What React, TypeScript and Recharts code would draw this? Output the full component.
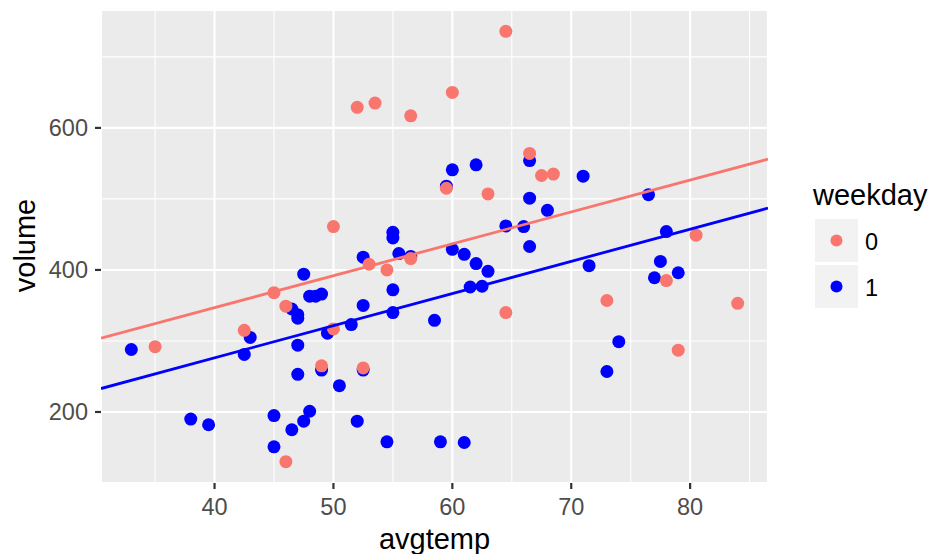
import { ScatterChart, Scatter, XAxis, YAxis, CartesianGrid, ReferenceLine, Label } from 'recharts'

// weekday = 0
const coralTemp = [35, 42.5, 45, 46, 46, 49, 50, 50, 52.5, 52, 53.5, 56.5, 53, 54.5, 56.5, 59.5, 60, 64.5, 63, 66.5, 67.5, 68.5, 64.5, 73, 78, 79, 80.5, 84]
const coralVolume = [292, 315, 368, 130, 349, 265, 317, 461, 262, 629, 635, 617, 408, 400, 416, 515, 650, 736, 507, 564, 533, 535, 340, 357, 385, 287, 449, 353]

// weekday = 1
const blueTemp = [33, 38, 39.5, 42.5, 43, 45, 45, 46.5, 47.5, 48, 47, 47, 47, 46.5, 47, 47.5, 48, 48.5, 49, 49, 49.5, 50.5, 51.5, 52, 52.5, 52.5, 52.5, 54.5, 55, 55, 55, 55, 55.5, 56.5, 58.5, 59, 61, 60, 61, 62, 63, 61.5, 62.5, 66.5, 71.5, 74, 73, 77.5, 77, 79, 60, 59.5, 62, 66.5, 66.5, 64.5, 66, 68, 71, 76.5, 78]
const blueVolume = [288, 190, 182, 281, 305, 195, 151, 175, 187, 201, 253, 294, 332, 345, 337, 394, 363, 363, 366, 259, 311, 237, 323, 187, 350, 418, 259, 158, 340, 372, 453, 445, 423, 419, 329, 158, 157, 429, 422, 409, 398, 376, 377, 433, 406, 299, 257, 412, 389, 396, 541, 518, 548, 554, 501, 462, 461, 484, 532, 506, 454]

// fitted lm lines, read at the panel edges
const fitTemp = [30.45, 86.55]
const coralFitVolume = [304, 556]
const blueFitVolume = [233, 487]

const xTicks = [40, 50, 60, 70, 80]
const yTicks = [200, 400, 600]
const xMinor = [35, 45, 55, 65, 75, 85]
const yMinor = [100, 300, 500, 700]

const levels = ['0', '1']
const COLORS = ['#F8766D', '#0000FF']

const FONT = '"Liberation Sans", Arial, Helvetica, sans-serif'

const toPoints = (xs: number[], ys: number[]) => xs.map((x, i) => ({ x, y: ys[i] }))
const coralData = toPoints(coralTemp, coralVolume)
const blueData = toPoints(blueTemp, blueVolume)
const coralFit = toPoints(fitTemp, coralFitVolume)
const blueFit = toPoints(fitTemp, blueFitVolume)

const dot = (color: string) => (p: any) => <circle cx={p.cx} cy={p.cy} r={6.5} fill={color} />
const noDot = () => <g />

const tickStyle = { fill: '#4D4D4D', fontSize: 23.5, fontFamily: FONT }

export default function App() {
  return (
    <div style={{ position: 'absolute', left: 0, top: 0, width: 929, height: 554, background: '#fff' }}>
      <ScatterChart width={929} height={554} margin={{ top: 10, right: 161, bottom: 0, left: 0 }}>
        <CartesianGrid fill="#EBEBEB" stroke="#fff" strokeWidth={2.1} />
        {xMinor.map((v) => <ReferenceLine key={'x' + v} x={v} stroke="#fff" strokeWidth={1.1} />)}
        {yMinor.map((v) => <ReferenceLine key={'y' + v} y={v} stroke="#fff" strokeWidth={1.1} />)}
        <XAxis type="number" dataKey="x" domain={[30.45, 86.55]} ticks={xTicks} allowDataOverflow
          axisLine={false} tickLine={{ stroke: '#333', strokeWidth: 2.2 }} tickSize={6} tickMargin={9}
          tick={tickStyle} height={71}>
          <Label value="avgtemp" position="insideBottom" offset={5} style={{ fontSize: 29, fill: '#000', fontFamily: FONT }} />
        </XAxis>
        <YAxis type="number" dataKey="y" domain={[100, 766]} ticks={yTicks} allowDataOverflow
          axisLine={false} tickLine={{ stroke: '#333', strokeWidth: 2.2 }} tickSize={6} tickMargin={7}
          tick={tickStyle} width={101}>
          <Label content={(props: any) => {
            const vb = props.viewBox
            const cx = vb.x + 34.5
            const cy = vb.y + vb.height / 2 - 1
            return <text x={cx} y={cy} transform={`rotate(-90, ${cx}, ${cy})`} textAnchor="middle" fontSize={29} fontFamily={FONT} fill="#000">volume</text>
          }} />
        </YAxis>
        <Scatter data={blueData} shape={dot(COLORS[1])} isAnimationActive={false} />
        <Scatter data={coralData} shape={dot(COLORS[0])} isAnimationActive={false} />
        <Scatter data={coralFit} shape={noDot} line={{ stroke: COLORS[0], strokeWidth: 2.8 }} isAnimationActive={false} />
        <Scatter data={blueFit} shape={noDot} line={{ stroke: COLORS[1], strokeWidth: 2.8 }} isAnimationActive={false} />
      </ScatterChart>
      <svg width={929} height={554} style={{ position: 'absolute', left: 0, top: 0, pointerEvents: 'none' }}>
        <text x={813} y={205} fontSize={29} fontFamily={FONT} fill="#000">weekday</text>
        {levels.map((lv, i) => (
          <g key={lv}>
            <rect x={815} y={219 + i * 46} width={43} height={43} fill="#F2F2F2" />
            <circle cx={836.5} cy={240.5 + i * 46} r={6} fill={COLORS[i]} />
            <text x={865} y={249.5 + i * 46} fontSize={23.5} fontFamily={FONT} fill="#000">{lv}</text>
          </g>
        ))}
      </svg>
    </div>
  )
}
